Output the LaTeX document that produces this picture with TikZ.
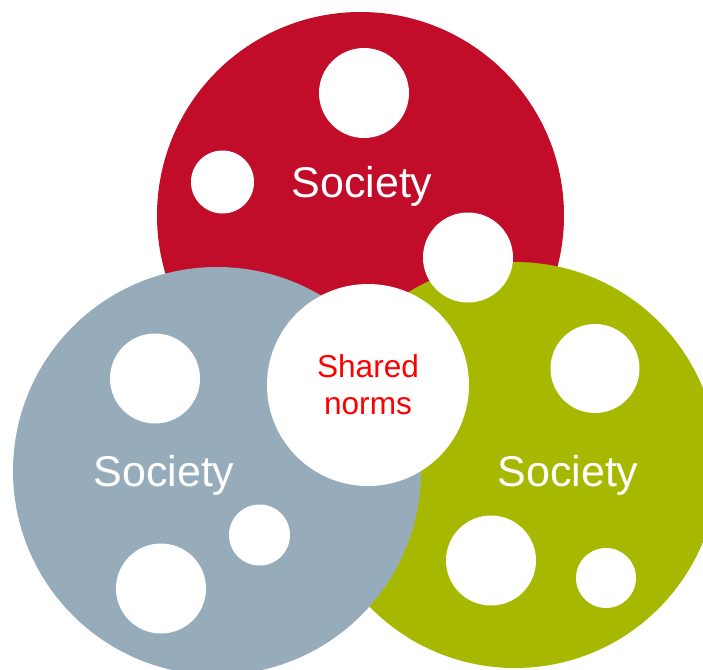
\documentclass[tikz,border=0pt]{standalone}
\usepackage{fontspec}
\setmainfont{Liberation Sans}
\definecolor{socred}{HTML}{C10C2A}
\definecolor{socgrey}{HTML}{96ACBB}
\definecolor{socgreen}{HTML}{A6B800}
\definecolor{normred}{HTML}{FF0000}
\usetikzlibrary{positioning}
\tikzset{
  society/.style={circle,inner sep=0pt,minimum size=#1},
  spot/.style={circle,fill=white,inner sep=0pt,minimum size=#1},
  soclbl/.style={text=white,anchor=base,inner sep=0pt,font=\fontsize{21.5}{26}\selectfont},
  normlbl/.style={text=normred,align=center,inner sep=0pt,font=\fontsize{15.8}{18.5}\selectfont}
}

\begin{document}
\begin{tikzpicture}[x=0.5pt,y=-0.5pt]
      \useasboundingbox (0,0) rectangle (703,670);
      \clip (0,0) rectangle (703,670);
      % three societies
      \node[society=203.5pt,fill=socred] (top) at (360.5,215.5) {};
      \node[society=203pt,fill=socgreen] (right) at (515,465) {};
      \node[society=204pt,fill=socgrey] (left) at (217,471) {};
      % white spots
      \node[spot=45pt] (top1) at (364,93) {};
      \node[spot=31.5pt] (top2) at (222.5,182) {};
      \node[spot=45pt] (top3) at (468,257.5) {};
      \node[spot=45pt] (left1) at (155,378.5) {};
      \node[spot=30.5pt] (left2) at (259.5,535) {};
      \node[spot=45pt] (left3) at (161,588.5) {};
      \node[spot=44.5pt] (right1) at (595,368.5) {};
      \node[spot=45pt] (right2) at (491,560.5) {};
      \node[spot=30pt] (right3) at (606,578) {};
      % common ground in the middle
      \node[spot=101pt] (shared) at (368,385) {};
      \node[normlbl] (norms) at (shared) {Shared\\norms};
      % labels
      \node[soclbl] (toplbl) at (362,197) {Society};
      \node[soclbl] (leftlbl) at (164,486) {Society};
      \node[soclbl] (rightlbl) at (568,486) {Society};
    \end{tikzpicture}
\end{document}
